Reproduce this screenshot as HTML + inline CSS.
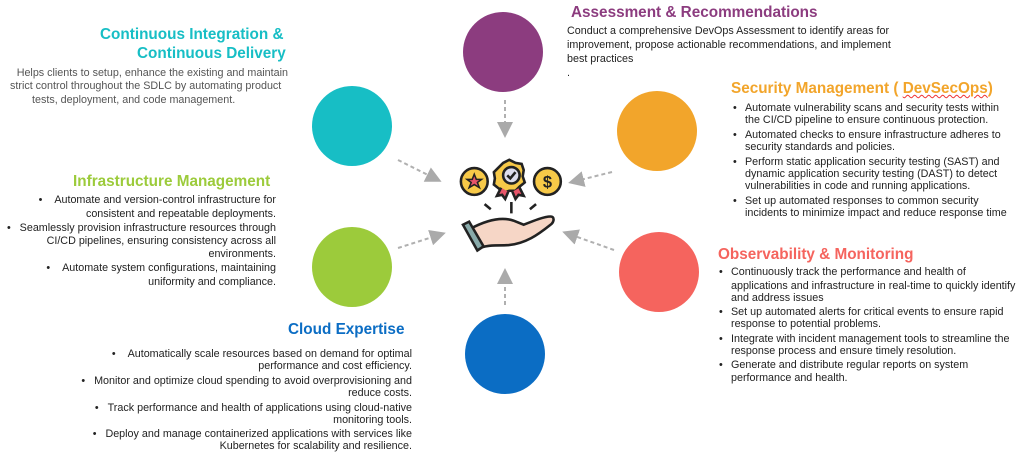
<!DOCTYPE html>
<html><head><meta charset="utf-8"><style>
body{margin:0;width:1024px;height:452px;background:#fff;position:relative;overflow:hidden;font-family:"Liberation Sans",Arial,sans-serif;color:#222}
.t{position:absolute;white-space:nowrap;font-size:10.75px;line-height:12px}
.r{text-align:right}
.h{position:absolute;white-space:nowrap;font-weight:bold;font-size:15.3px;line-height:18px}
.c{position:absolute;border-radius:50%}
</style></head><body>
<div class="c" style="left:463px;top:12px;width:80px;height:80px;background:#8C3C7F"></div>
<div class="c" style="left:312px;top:86px;width:80px;height:80px;background:#17BEC5"></div>
<div class="c" style="left:312px;top:227px;width:80px;height:80px;background:#9CCB3B"></div>
<div class="c" style="left:465px;top:314px;width:80px;height:80px;background:#0B6DC4"></div>
<div class="c" style="left:619px;top:232px;width:80px;height:80px;background:#F5645E"></div>
<div class="c" style="left:617px;top:91px;width:80px;height:80px;background:#F2A52B"></div>

<svg style="position:absolute;left:0;top:0" width="1024" height="452">
<defs><marker id="a" markerWidth="8" markerHeight="8" refX="6" refY="4" orient="auto"><path d="M0,0 L8,4 L0,8z" fill="#aaa"/></marker></defs>
<g stroke="#b0b0b0" stroke-width="2" stroke-dasharray="4,3" fill="none" marker-end="url(#a)">
<line x1="505" y1="100" x2="505" y2="134"/>
<line x1="398" y1="160" x2="438" y2="180"/>
<line x1="398" y1="248" x2="442" y2="234"/>
<line x1="505" y1="305" x2="505" y2="272"/>
<line x1="614" y1="250" x2="566" y2="233"/>
<line x1="612" y1="172" x2="572" y2="182"/>
</g>
<g stroke="#222" stroke-width="2.5" transform="translate(-16,-6) scale(1.03)">
<path d="M504,164 l6,-3 l6,3 l6,1 l2,6 l-1,6 l2,6 l-5,4 l-4,4 l-6,0 l-6,2 l-4,-4 l-5,-4 l1,-6 l-1,-6 l4,-4z" fill="#F7C948"/>
<circle cx="512" cy="176" r="8" fill="#dde"/>
<path d="M508,176 l3,3 l5,-6" fill="none"/>
<path d="M502,188 l-4,8 l5,-1 l3,4 l3,-7M520,188 l4,8 l-5,-1 l-3,4 l-3,-7" fill="#E8556A"/>
<circle cx="476" cy="182" r="13" fill="#F7C948"/>
<path d="M476,175 l2,5 l5,0 l-4,3 l2,5 l-5,-3 l-5,3 l2,-5 l-4,-3 l5,0z" fill="#E8556A" stroke-width="1.5"/>
<circle cx="547" cy="182" r="13" fill="#F7C948"/>
<text x="547" y="188" font-size="16" font-weight="bold" text-anchor="middle" fill="#222" stroke="none" font-family="Liberation Sans">$</text>
<path d="M486,204 l6,5 M512,202 v11 M536,204 l-6,5" />
<path d="M472,228 c15,-8 30,-12 42,-8 l10,4 c10,-4 20,-8 26,-8 c4,0 4,5 0,8 c-10,8 -25,20 -45,20 c-10,0 -20,0 -26,4z" fill="#F6D6C6"/>
<path d="M465,224 l6,-3 l14,24 l-6,4z" fill="#8AA"/>
</g>
</svg>

<div class="h" style="left:571px;top:4px;color:#8C3C7F">Assessment &amp; Recommendations</div>
<div class="t" style="left:567px;top:25px">Conduct a comprehensive DevOps Assessment to identify areas for</div>
<div class="t" style="left:567px;top:39px">improvement, propose actionable recommendations, and implement</div>
<div class="t" style="left:567px;top:53px">best practices</div>
<div class="t" style="left:567px;top:67px">.</div>

<div class="h" style="left:100px;top:26px;color:#17BEC5">Continuous Integration &amp;</div>
<div class="h" style="left:137px;top:45px;color:#17BEC5">Continuous Delivery</div>
<div class="t r" style="right:736px;top:67px;color:#555">Helps clients to setup, enhance the existing and maintain</div>
<div class="t" style="left:10px;top:80px;color:#555">strict control throughout the SDLC by automating product</div>
<div class="t" style="left:32px;top:94px;color:#555">tests, deployment, and code management.</div>

<div class="h" style="left:731px;top:80px;color:#F2A52B">Security Management ( <span style="text-decoration:underline wavy #e33;text-decoration-thickness:1px">DevSecOps</span>)</div>
<div class="t" style="left:733px;top:102px">•</div><div class="t" style="left:745px;top:102px">Automate vulnerability scans and security tests within</div>
<div class="t" style="left:745px;top:114px">the CI/CD pipeline to ensure continuous protection.</div>
<div class="t" style="left:733px;top:129px">•</div><div class="t" style="left:745px;top:129px">Automated checks to ensure infrastructure adheres to</div>
<div class="t" style="left:745px;top:141px">security standards and policies.</div>
<div class="t" style="left:733px;top:156px">•</div><div class="t" style="left:745px;top:156px">Perform static application security testing (SAST) and</div>
<div class="t" style="left:745px;top:168px">dynamic application security testing (DAST) to detect</div>
<div class="t" style="left:745px;top:180px">vulnerabilities in code and running applications.</div>
<div class="t" style="left:733px;top:195px">•</div><div class="t" style="left:745px;top:195px">Set up automated responses to common security</div>
<div class="t" style="left:745px;top:207px">incidents to minimize impact and reduce response time</div>

<div class="h" style="left:73px;top:173px;color:#9CCB3B">Infrastructure Management</div>
<div class="t r" style="right:748px;top:194px">•&nbsp;&nbsp;&nbsp;&nbsp;Automate and version-control infrastructure for</div>
<div class="t r" style="right:748px;top:208px">consistent and repeatable deployments.</div>
<div class="t r" style="right:748px;top:222px">•&nbsp;&nbsp;&nbsp;Seamlessly provision infrastructure resources through</div>
<div class="t r" style="right:748px;top:235px">CI/CD pipelines, ensuring consistency across all</div>
<div class="t r" style="right:748px;top:248px">environments.</div>
<div class="t r" style="right:748px;top:262px">•&nbsp;&nbsp;&nbsp;&nbsp;Automate system configurations, maintaining</div>
<div class="t r" style="right:748px;top:276px">uniformity and compliance.</div>

<div class="h" style="left:718px;top:246px;color:#F5645E">Observability &amp; Monitoring</div>
<div class="t" style="left:719px;top:266px">•</div><div class="t" style="left:731px;top:266px">Continuously track the performance and health of</div>
<div class="t" style="left:731px;top:280px">applications and infrastructure in real-time to quickly identify</div>
<div class="t" style="left:731px;top:292px">and address issues</div>
<div class="t" style="left:719px;top:306px">•</div><div class="t" style="left:731px;top:306px">Set up automated alerts for critical events to ensure rapid</div>
<div class="t" style="left:731px;top:318px">response to potential problems.</div>
<div class="t" style="left:719px;top:333px">•</div><div class="t" style="left:731px;top:333px">Integrate with incident management tools to streamline the</div>
<div class="t" style="left:731px;top:345px">response process and ensure timely resolution.</div>
<div class="t" style="left:719px;top:359px">•</div><div class="t" style="left:731px;top:359px">Generate and distribute regular reports on system</div>
<div class="t" style="left:731px;top:372px">performance and health.</div>

<div class="h" style="left:288px;top:321px;color:#0B6DC4">Cloud Expertise</div>
<div class="t r" style="right:612px;top:348px">•&nbsp;&nbsp;&nbsp;&nbsp;Automatically scale resources based on demand for optimal</div>
<div class="t r" style="right:612px;top:360px">performance and cost efficiency.</div>
<div class="t r" style="right:612px;top:375px">•&nbsp;&nbsp;&nbsp;Monitor and optimize cloud spending to avoid overprovisioning and</div>
<div class="t r" style="right:612px;top:387px">reduce costs.</div>
<div class="t r" style="right:612px;top:402px">•&nbsp;&nbsp;&nbsp;Track performance and health of applications using cloud-native</div>
<div class="t r" style="right:612px;top:414px">monitoring tools.</div>
<div class="t r" style="right:612px;top:428px">•&nbsp;&nbsp;&nbsp;Deploy and manage containerized applications with services like</div>
<div class="t r" style="right:612px;top:440px">Kubernetes for scalability and resilience.</div>
</body></html>
